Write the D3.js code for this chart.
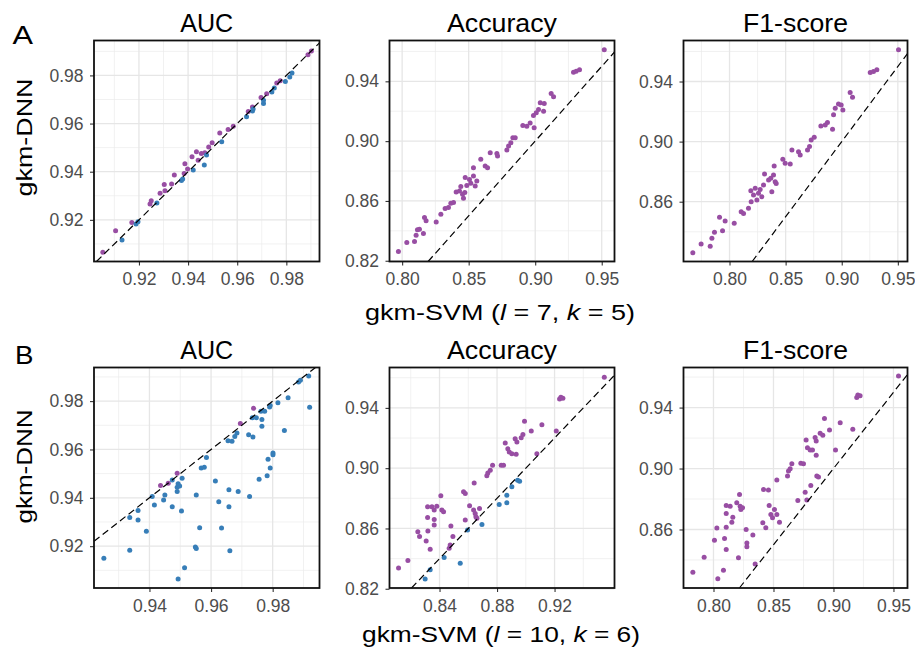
<!DOCTYPE html>
<html>
<head>
<meta charset="utf-8">
<script src="https://cdn.jsdelivr.net/npm/d3@7"></script>
<style>
  body { margin: 0; background: #fff; }
  svg { display: block; font-family: "Liberation Sans", Arial, sans-serif; }
</style>
</head>
<body>
<svg id="chart" width="915" height="655"></svg>
<script>
// ---- data: [gkm-SVM, gkm-DNN] per point ----
// row A: gkm-SVM (l = 7, k = 5)
const aucA_purple = [[0.9053,0.9065],[0.9105,0.9155],[0.9171,0.9189],[0.9245,0.9266],[0.9250,0.9279],[0.9286,0.9310],
  [0.9303,0.9347],[0.9306,0.9321],[0.9333,0.9349],[0.9344,0.9386],[0.9384,0.9393],[0.9387,0.9433],[0.9398,0.9411],
  [0.9416,0.9462],[0.9434,0.9483],[0.9441,0.9448],[0.9454,0.9476],[0.9468,0.9479],[0.9484,0.9503],[0.9498,0.9520],
  [0.9529,0.9561],[0.9563,0.9575],[0.9584,0.9589],[0.9645,0.9650],[0.9662,0.9669],[0.9697,0.9708],[0.9720,0.9724],
  [0.9761,0.9768],[0.9775,0.9778],[0.9888,0.9886],[0.9902,0.9901]];
const aucA_blue = [[0.9131,0.9116],[0.9188,0.9183],[0.9196,0.9192],[0.9273,0.9270],[0.9373,0.9363],[0.9378,0.9370],
  [0.9421,0.9407],[0.9466,0.9428],[0.9475,0.9469],[0.9537,0.9524],[0.9638,0.9628],[0.9662,0.9652],[0.9665,0.9660],
  [0.9707,0.9683],[0.9707,0.9697],[0.9741,0.9731],[0.9751,0.9748],[0.9796,0.9775],[0.9814,0.9793],[0.9823,0.9810]];
const accA_purple = [[0.7972,0.8262],[0.8035,0.8322],[0.8093,0.8329],[0.8105,0.8371],[0.8115,0.8407],[0.8130,0.8411],
  [0.8160,0.8382],[0.8168,0.8489],[0.8180,0.8467],[0.8256,0.8460],[0.8291,0.8511],[0.8323,0.8549],[0.8348,0.8556],
  [0.8366,0.8584],[0.8386,0.8589],[0.8406,0.8660],[0.8431,0.8667],[0.8441,0.8696],[0.8454,0.8644],[0.8461,0.8618],
  [0.8471,0.8656],[0.8486,0.8704],[0.8474,0.8756],[0.8506,0.8744],[0.8516,0.8718],[0.8536,0.8767],[0.8536,0.8822],
  [0.8561,0.8733],[0.8549,0.8700],[0.8591,0.8878],[0.8624,0.8833],[0.8642,0.8822],[0.8662,0.8922],[0.8712,0.8918],
  [0.8717,0.8900],[0.8787,0.8940],[0.8800,0.8967],[0.8817,0.8989],[0.8832,0.9022],[0.8850,0.9022],[0.8907,0.9104],
  [0.8937,0.9100],[0.8962,0.9122],[0.8992,0.9089],[0.8987,0.9171],[0.9008,0.9189],[0.9025,0.9211],[0.9038,0.9256],
  [0.9068,0.9251],[0.9063,0.9200],[0.9120,0.9318],[0.9138,0.9296],[0.9288,0.9460],[0.9308,0.9467],[0.9333,0.9478],
  [0.9519,0.9611]];
const f1A_purple = [[0.7673,0.8260],[0.7747,0.8318],[0.7828,0.8304],[0.7843,0.8356],[0.7866,0.8396],[0.7938,0.8407],
  [0.7911,0.8496],[0.7961,0.8471],[0.8042,0.8456],[0.8104,0.8533],[0.8125,0.8522],[0.8169,0.8556],[0.8190,0.8673],
  [0.8193,0.8600],[0.8214,0.8644],[0.8229,0.8689],[0.8244,0.8611],[0.8258,0.8656],[0.8273,0.8682],[0.8288,0.8633],
  [0.8303,0.8711],[0.8312,0.8784],[0.8348,0.8744],[0.8368,0.8756],[0.8377,0.8667],[0.8392,0.8778],[0.8398,0.8838],
  [0.8407,0.8733],[0.8416,0.8722],[0.8475,0.8882],[0.8496,0.8856],[0.8541,0.8851],[0.8556,0.8944],[0.8615,0.8933],
  [0.8630,0.8911],[0.8695,0.8944],[0.8713,0.8967],[0.8728,0.9011],[0.8755,0.9029],[0.8814,0.9104],[0.8853,0.9111],
  [0.8873,0.9127],[0.8918,0.9082],[0.8927,0.9178],[0.8942,0.9222],[0.8971,0.9251],[0.8995,0.9244],[0.9010,0.9211],
  [0.9075,0.9327],[0.9096,0.9296],[0.9254,0.9460],[0.9283,0.9467],[0.9313,0.9478],[0.9506,0.9611]];

// row B: gkm-SVM (l = 10, k = 6)
const aucB_purple = [[0.9436,0.9451],[0.9461,0.9460],[0.9490,0.9502],[0.9695,0.9707],[0.9738,0.9770]];
const aucB_blue = [[0.9252,0.9150],[0.9336,0.9319],[0.9336,0.9183],[0.9363,0.9348],[0.9363,0.9308],[0.9390,0.9262],
  [0.9409,0.9405],[0.9416,0.9370],[0.9446,0.9391],[0.9450,0.9412],[0.9474,0.9363],[0.9474,0.9474],[0.9490,0.9444],
  [0.9493,0.9458],[0.9490,0.9426],[0.9498,0.9449],[0.9506,0.9481],[0.9504,0.9345],[0.9493,0.9064],[0.9514,0.9111],
  [0.9549,0.9197],[0.9552,0.9190],[0.9552,0.9412],[0.9563,0.9276],[0.9568,0.9523],[0.9578,0.9526],[0.9585,0.9567],
  [0.9614,0.9470],[0.9625,0.9384],[0.9634,0.9275],[0.9655,0.9636],[0.9658,0.9433],[0.9658,0.9363],[0.9661,0.9181],
  [0.9668,0.9634],[0.9677,0.9654],[0.9684,0.9668],[0.9688,0.9426],[0.9725,0.9405],[0.9722,0.9661],[0.9736,0.9652],
  [0.9734,0.9731],[0.9747,0.9731],[0.9756,0.9477],[0.9762,0.9758],[0.9765,0.9724],[0.9765,0.9696],[0.9774,0.9758],
  [0.9782,0.9491],[0.9785,0.9560],[0.9790,0.9776],[0.9792,0.9523],[0.9792,0.9782],[0.9801,0.9585],[0.9801,0.9578],
  [0.9817,0.9793],[0.9838,0.9678],[0.9850,0.9814],[0.9884,0.9879],[0.9890,0.9886],[0.9917,0.9904],[0.9920,0.9775]];
const accB_purple = [[0.8115,0.8337],[0.8180,0.8387],[0.8249,0.8579],[0.8261,0.8546],[0.8307,0.8517],[0.8317,0.8744],
  [0.8317,0.8673],[0.8319,0.8583],[0.8335,0.8462],[0.8347,0.8744],[0.8363,0.8722],[0.8363,0.8623],[0.8363,0.8660],
  [0.8381,0.8748],[0.8409,0.8817],[0.8416,0.8722],[0.8428,0.8711],[0.8479,0.8616],[0.8493,0.8546],[0.8474,0.8491],
  [0.8467,0.8469],[0.8579,0.8656],[0.8567,0.8843],[0.8579,0.8832],[0.8609,0.8750],[0.8641,0.8902],[0.8637,0.8722],
  [0.8648,0.8700],[0.8653,0.8678],[0.8660,0.8667],[0.8678,0.8733],[0.8729,0.8949],[0.8736,0.8968],[0.8753,0.8986],
  [0.8769,0.9019],[0.8829,0.9019],[0.8845,0.9019],[0.8857,0.9167],[0.8875,0.9129],[0.8885,0.9107],[0.8903,0.9096],
  [0.8926,0.9195],[0.8933,0.9092],[0.8938,0.9173],[0.8968,0.9202],[0.8980,0.9224],[0.8991,0.9312],[0.9038,0.9246],
  [0.9077,0.9096],[0.9112,0.9288],[0.9212,0.9246],[0.9235,0.9459],[0.9244,0.9470],[0.9258,0.9464],[0.9546,0.9603]];
const accB_blue = [[0.8300,0.8264],[0.8335,0.8326],[0.8432,0.8407],[0.8544,0.8370],[0.8595,0.8590],[0.8695,0.8627],
  [0.8815,0.8759],[0.8868,0.8770],[0.8868,0.8821],[0.8903,0.8876],[0.8943,0.8920],[0.8957,0.8913]];
const f1B_purple = [[0.7828,0.8319],[0.7922,0.8418],[0.8008,0.8530],[0.8028,0.8609],[0.8036,0.8276],[0.8083,0.8333],
  [0.8092,0.8541],[0.8106,0.8758],[0.8106,0.8705],[0.8106,0.8615],[0.8106,0.8468],[0.8139,0.8753],[0.8153,0.8648],
  [0.8161,0.8681],[0.8194,0.8775],[0.8208,0.8414],[0.8217,0.8830],[0.8222,0.8753],[0.8228,0.8731],[0.8242,0.8742],
  [0.8272,0.8600],[0.8278,0.8512],[0.8278,0.8486],[0.8328,0.8563],[0.8347,0.8374],[0.8411,0.8644],[0.8417,0.8863],
  [0.8436,0.8611],[0.8458,0.8859],[0.8464,0.8758],[0.8478,0.8699],[0.8492,0.8677],[0.8508,0.8731],[0.8528,0.8699],
  [0.8528,0.8924],[0.8550,0.8648],[0.8617,0.8951],[0.8625,0.8984],[0.8639,0.8999],[0.8653,0.9032],[0.8703,0.8791],
  [0.8728,0.9034],[0.8750,0.9032],[0.8764,0.8845],[0.8772,0.9187],[0.8778,0.8793],[0.8783,0.9137],[0.8806,0.9122],
  [0.8811,0.8889],[0.8825,0.9122],[0.8847,0.9203],[0.8856,0.9181],[0.8856,0.9087],[0.8861,0.8951],[0.8875,0.8944],
  [0.8889,0.9231],[0.8911,0.9218],[0.8925,0.9328],[0.8967,0.9253],[0.9017,0.9122],[0.9056,0.9301],[0.9161,0.9258],
  [0.9194,0.9466],[0.9203,0.9483],[0.9222,0.9477],[0.9542,0.9608]];

// axis ranges and tick labels
const aucA_xDomain = [0.9017, 0.9935], aucA_yDomain = [0.9027, 0.9945];
const accA_xDomain = [0.7905, 0.9596], accA_yDomain = [0.8195, 0.9673];
const f1A_xDomain  = [0.7590, 0.9586], f1A_yDomain  = [0.8202, 0.9673];
const aucB_xDomain = [0.9220, 0.9952], aucB_yDomain = [0.9027, 0.9939];
const accB_xDomain = [0.8052, 0.9617], accB_yDomain = [0.8205, 0.9668];
const f1B_xDomain  = [0.7750, 0.9617], f1B_yDomain  = [0.8216, 0.9663];

const aucA_xTicks = [0.92, 0.94, 0.96, 0.98], aucA_yTicks = [0.92, 0.94, 0.96, 0.98];
const accA_xTicks = [0.80, 0.85, 0.90, 0.95], accA_yTicks = [0.82, 0.86, 0.90, 0.94];
const f1A_xTicks  = [0.80, 0.85, 0.90, 0.95], f1A_yTicks  = [0.86, 0.90, 0.94];
const aucB_xTicks = [0.94, 0.96, 0.98],       aucB_yTicks = [0.92, 0.94, 0.96, 0.98];
const accB_xTicks = [0.84, 0.88, 0.92],       accB_yTicks = [0.82, 0.86, 0.90, 0.94];
const f1B_xTicks  = [0.80, 0.85, 0.90, 0.95], f1B_yTicks  = [0.86, 0.90, 0.94];

const titles = ["AUC", "Accuracy", "F1-score"];
const rowLetters = ["A", "B"];

// ---- layout ----
const cols = [[94, 319.5], [389.5, 614.5], [683.5, 907.5]];
const rows = [[40.5, 261.5], [367.5, 588]];
const purple = "#984EA3", blue = "#377EB8";

const panels = [
  { r: 0, c: 0, purple: aucA_purple, blue: aucA_blue, xd: aucA_xDomain, yd: aucA_yDomain, xt: aucA_xTicks, yt: aucA_yTicks },
  { r: 0, c: 1, purple: accA_purple, blue: [],        xd: accA_xDomain, yd: accA_yDomain, xt: accA_xTicks, yt: accA_yTicks },
  { r: 0, c: 2, purple: f1A_purple,  blue: [],        xd: f1A_xDomain,  yd: f1A_yDomain,  xt: f1A_xTicks,  yt: f1A_yTicks },
  { r: 1, c: 0, purple: aucB_purple, blue: aucB_blue, xd: aucB_xDomain, yd: aucB_yDomain, xt: aucB_xTicks, yt: aucB_yTicks },
  { r: 1, c: 1, purple: accB_purple, blue: accB_blue, xd: accB_xDomain, yd: accB_yDomain, xt: accB_xTicks, yt: accB_yTicks },
  { r: 1, c: 2, purple: f1B_purple,  blue: [],        xd: f1B_xDomain,  yd: f1B_yDomain,  xt: f1B_xTicks,  yt: f1B_yTicks }
];

const svg = d3.select("#chart");
const fmt = d3.format(".2f");

// minor breaks halfway between majors, kept inside the range
function minors(ticks, dom) {
  const step = ticks[1] - ticks[0];
  const out = [];
  for (let v = ticks[0] - step / 2; v <= ticks[ticks.length - 1] + step; v += step) {
    if (v > dom[0] && v < dom[1]) out.push(+v.toFixed(4));
  }
  return out;
}

panels.forEach(p => {
  const [x0, x1] = cols[p.c], [y0, y1] = rows[p.r];
  const x = d3.scaleLinear().domain(p.xd).range([x0, x1]);
  const y = d3.scaleLinear().domain(p.yd).range([y1, y0]);
  const g = svg.append("g");

  // grid
  const grid = g.append("g");
  grid.selectAll(".vmin").data(minors(p.xt, p.xd)).join("line")
    .attr("x1", d => x(d)).attr("x2", d => x(d)).attr("y1", y0).attr("y2", y1)
    .attr("stroke", "#ebebeb").attr("stroke-width", 0.7);
  grid.selectAll(".hmin").data(minors(p.yt, p.yd)).join("line")
    .attr("y1", d => y(d)).attr("y2", d => y(d)).attr("x1", x0).attr("x2", x1)
    .attr("stroke", "#ebebeb").attr("stroke-width", 0.7);
  grid.selectAll(".vmaj").data(p.xt).join("line")
    .attr("x1", d => x(d)).attr("x2", d => x(d)).attr("y1", y0).attr("y2", y1)
    .attr("stroke", "#e6e6e6").attr("stroke-width", 1.3);
  grid.selectAll(".hmaj").data(p.yt).join("line")
    .attr("y1", d => y(d)).attr("y2", d => y(d)).attr("x1", x0).attr("x2", x1)
    .attr("stroke", "#e6e6e6").attr("stroke-width", 1.3);

  // points
  const pts = p.purple.map(d => ({ v: d, col: purple })).concat(p.blue.map(d => ({ v: d, col: blue })));
  g.selectAll("circle").data(pts).join("circle")
    .attr("cx", d => x(d.v[0])).attr("cy", d => y(d.v[1]))
    .attr("r", 2.5).attr("fill", d => d.col);

  // y = x reference line
  const lo = Math.max(p.xd[0], p.yd[0]), hi = Math.min(p.xd[1], p.yd[1]);
  g.append("line")
    .attr("x1", x(lo)).attr("y1", y(lo)).attr("x2", x(hi)).attr("y2", y(hi))
    .attr("stroke", "#000").attr("stroke-width", 1.2).attr("stroke-dasharray", "7,4");

  // axes
  const styleAxis = a => {
    a.select(".domain").remove();
    a.selectAll(".tick line").attr("stroke", "#333").attr("stroke-width", 1.1);
    a.selectAll(".tick text").attr("fill", "#4d4d4d").style("font-size", "17.5px")
      .style("font-family", "'Liberation Sans', Arial, sans-serif");
  };
  g.append("g").attr("transform", `translate(0,${y1})`)
    .call(d3.axisBottom(x).tickValues(p.xt).tickFormat(fmt).tickSize(4).tickPadding(7.5))
    .call(styleAxis);
  g.append("g").attr("transform", `translate(${x0},0)`)
    .call(d3.axisLeft(y).tickValues(p.yt).tickFormat(fmt).tickSize(4).tickPadding(6.5))
    .call(styleAxis);

  // panel border
  g.append("rect").attr("x", x0).attr("y", y0).attr("width", x1 - x0).attr("height", y1 - y0)
    .attr("fill", "none").attr("stroke", "#111").attr("stroke-width", 1.8);

  // title
  const tLen = { "AUC": 53, "Accuracy": 110, "F1-score": 105 };
  svg.append("text")
    .attr("x", (x0 + x1) / 2).attr("y", y0 - 9)
    .attr("text-anchor", "middle").style("font-size", "25px").attr("fill", "#000")
    .attr("textLength", tLen[titles[p.c]]).attr("lengthAdjust", "spacingAndGlyphs")
    .text(titles[p.c]);
});

// row letters
svg.append("text").attr("x", 12.5).attr("y", 44).style("font-size", "25px")
  .attr("textLength", 20.5).attr("lengthAdjust", "spacingAndGlyphs").text(rowLetters[0]);
svg.append("text").attr("x", 15).attr("y", 363.5).style("font-size", "25px")
  .attr("textLength", 18.5).attr("lengthAdjust", "spacingAndGlyphs").text(rowLetters[1]);

// y axis titles
[[137.5, 118], [466.5, 114]].forEach(([cy, len]) => {
  svg.append("text")
    .attr("transform", `translate(32,${cy}) rotate(-90)`)
    .attr("text-anchor", "middle").style("font-size", "22px")
    .attr("textLength", len).attr("lengthAdjust", "spacingAndGlyphs")
    .text("gkm-DNN");
});

// x axis titles with italic l and k
function xTitle(cx, baseline, len, lval, kval) {
  const t = svg.append("text").attr("x", cx).attr("y", baseline)
    .attr("text-anchor", "middle").style("font-size", "22px")
    .attr("textLength", len).attr("lengthAdjust", "spacingAndGlyphs");
  t.append("tspan").text("gkm-SVM (");
  t.append("tspan").style("font-style", "italic").text("l");
  t.append("tspan").text(` = ${lval}, `);
  t.append("tspan").style("font-style", "italic").text("k");
  t.append("tspan").text(` = ${kval})`);
}
xTitle(500, 320, 270, 7, 5);
xTitle(501, 642, 278, 10, 6);
</script>
</body>
</html>
